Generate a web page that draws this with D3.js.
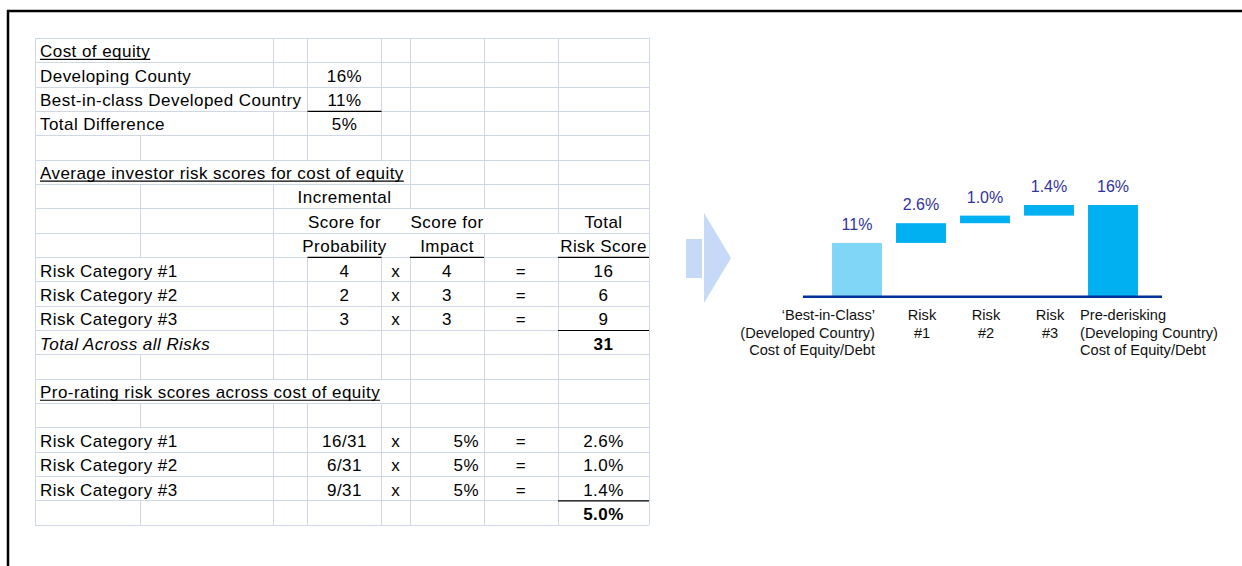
<!DOCTYPE html>
<html>
<head>
<meta charset="utf-8">
<script src="https://cdn.jsdelivr.net/npm/d3@7"></script>
<style>
  body { margin: 0; background: #fff; }
  svg { display: block; font-family: "Liberation Sans", Arial, sans-serif; }
</style>
</head>
<body>
<svg id="chart" width="1242" height="566"></svg>
<script>
// cost of equity block
const costLabels = ["Developing County", "Best-in-class Developed Country", "Total Difference"];
const costValues = ["16%", "11%", "5%"];

// average investor risk scores
const riskCategories = ["Risk Category #1", "Risk Category #2", "Risk Category #3"];
const probabilityScores = [4, 2, 3];
const impactScores = [4, 3, 3];
const totalScores = [16, 6, 9];
const totalRiskScore = 31;

// pro-rating the difference
const proRateShares = ["16/31", "6/31", "9/31"];
const proRateDifference = ["5%", "5%", "5%"];
const proRatedCost = ["2.6%", "1.0%", "1.4%"];
const proRatedTotal = "5.0%";

// waterfall
const stepNames = [
    ["\u2018Best-in-Class\u2019", "(Developed Country)", "Cost of Equity/Debt"],
    ["Risk", "#1"],
    ["Risk", "#2"],
    ["Risk", "#3"],
    ["Pre-derisking", "(Developing Country)", "Cost of Equity/Debt"]
];
const stepValues = [11, 2.6, 1.0, 1.4, 16];
const stepLabels = ["11%", "2.6%", "1.0%", "1.4%", "16%"];
const stepKinds = ["total", "delta", "delta", "delta", "total"];

const svg = d3.select("#chart");

// ---------- spreadsheet ----------
const colEdges = [35, 140, 273, 307.5, 381.5, 410, 484, 558, 649];
const nRows = 20;
const row = d3.scaleBand().domain(d3.range(nRows)).range([38.3, 525.3]);
const rh = row.bandwidth();

const cells = [];
const add = (r, c, text, opts = {}) => cells.push({ r, c, text: String(text), anchor: "start", ...opts });

add(0, 0, "Cost of equity", { underline: true });
costLabels.forEach((t, i) => {
    add(1 + i, 0, t);
    add(1 + i, 3, costValues[i], { anchor: "middle" });
});
add(5, 0, "Average investor risk scores for cost of equity", { underline: true });
add(6, 3, "Incremental", { anchor: "middle" });
add(7, 3, "Score for", { anchor: "middle" });
add(7, 5, "Score for", { anchor: "middle", clear: [5] });
add(7, 7, "Total", { anchor: "middle" });
add(8, 3, "Probability", { anchor: "middle" });
add(8, 5, "Impact", { anchor: "middle", clear: [5] });
add(8, 7, "Risk Score", { anchor: "middle" });
riskCategories.forEach((t, i) => {
    const r = 9 + i;
    add(r, 0, t);
    add(r, 3, probabilityScores[i], { anchor: "middle" });
    add(r, 4, "x", { anchor: "middle" });
    add(r, 5, impactScores[i], { anchor: "middle" });
    add(r, 6, "=", { anchor: "middle" });
    add(r, 7, totalScores[i], { anchor: "middle" });
});
add(12, 0, "Total Across all Risks", { italic: true });
add(12, 7, totalRiskScore, { anchor: "middle", bold: true });
add(14, 0, "Pro-rating risk scores across cost of equity ", { underline: true });
riskCategories.forEach((t, i) => {
    const r = 16 + i;
    add(r, 0, t);
    add(r, 3, proRateShares[i], { anchor: "middle" });
    add(r, 4, "x", { anchor: "middle" });
    add(r, 5, proRateDifference[i], { anchor: "end" });
    add(r, 6, "=", { anchor: "middle" });
    add(r, 7, proRatedCost[i], { anchor: "middle" });
});
add(19, 7, proRatedTotal, { anchor: "middle", bold: true });

// dark cell borders (bottom edge of the given cell)
const cellRules = [[2, 3], [8, 3], [8, 5], [8, 7], [11, 7], [18, 7]];

const gridG = svg.append("g").attr("shape-rendering", "crispEdges");
const textG = svg.append("g")
    .style("font-size", "17px")
    .style("letter-spacing", "0.45px")
    .style("white-space", "pre")
    .attr("fill", "#000");

const cellX = d => d.anchor === "start" ? colEdges[d.c] + 5
    : d.anchor === "end" ? colEdges[d.c + 1] - 5
    : (colEdges[d.c] + colEdges[d.c + 1]) / 2;

textG.selectAll("text")
    .data(cells)
    .join("text")
    .attr("x", cellX)
    .attr("y", d => row(d.r) + rh - 5.3)
    .attr("text-anchor", d => d.anchor)
    .attr("font-weight", d => d.bold ? "bold" : null)
    .attr("font-style", d => d.italic ? "italic" : null)
    .text(d => d.text)
    .each(function(d) {
        const w = this.getComputedTextLength();
        const x = cellX(d);
        d.x0 = d.anchor === "start" ? x : d.anchor === "end" ? x - w : x - w / 2;
        d.x1 = d.x0 + w;
    });

// underlines drawn by hand so the trailing space counts
textG.selectAll("line.ul")
    .data(cells.filter(d => d.underline))
    .join("line")
    .attr("x1", d => d.x0).attr("x2", d => d.x1)
    .attr("y1", d => row(d.r) + rh - 3.3).attr("y2", d => row(d.r) + rh - 3.3)
    .attr("stroke", "#000").attr("stroke-width", 1.2);

// horizontal grid
gridG.selectAll("line.h")
    .data(d3.range(nRows + 1))
    .join("line")
    .attr("x1", colEdges[0]).attr("x2", colEdges[colEdges.length - 1])
    .attr("y1", r => r === nRows ? row.range()[1] : row(r))
    .attr("y2", r => r === nRows ? row.range()[1] : row(r))
    .attr("stroke", "#D0D7E5");

// vertical grid, hidden where text spills across a column edge
const vSegs = [];
d3.range(nRows).forEach(r => {
    const inRow = cells.filter(d => d.r === r);
    colEdges.forEach((x, ei) => {
        const edgeOuter = ei === 0 || ei === colEdges.length - 1;
        const hidden = !edgeOuter && inRow.some(d =>
            (d.clear && d.clear.includes(ei)) || (d.x0 - 3 < x && d.x1 + 3 > x));
        if (!hidden) vSegs.push({ r, x });
    });
});
gridG.selectAll("line.v")
    .data(vSegs)
    .join("line")
    .attr("x1", d => d.x).attr("x2", d => d.x)
    .attr("y1", d => row(d.r)).attr("y2", d => row(d.r) + rh)
    .attr("stroke", "#D0D7E5");

svg.append("g")
    .selectAll("line")
    .data(cellRules)
    .join("line")
    .attr("x1", d => colEdges[d[1]]).attr("x2", d => colEdges[d[1] + 1])
    .attr("y1", d => row(d[0]) + rh).attr("y2", d => row(d[0]) + rh)
    .attr("stroke", "#000").attr("stroke-width", 1.2);

// ---------- arrow ----------
svg.append("rect").attr("x", 686).attr("y", 239).attr("width", 16).attr("height", 39).attr("fill", "#C6D9F6");
svg.append("path").attr("d", "M704,213 L731,258 L704,303 Z").attr("fill", "#C6D9F6");

// ---------- waterfall ----------
const x = d3.scaleBand()
    .domain(d3.range(stepValues.length))
    .range([825, 1145])
    .paddingInner(0.22)
    .paddingOuter(0.11);
const y = d3.scaleLinear().domain([4, 16]).range([296, 205]);

let running = 0;
const bars = stepValues.map((v, i) => {
    let lo, hi;
    if (stepKinds[i] === "total") { lo = y.domain()[0]; hi = v; running = v; }
    else { lo = running; hi = running + v; running = hi; }
    return { i, lo, hi, label: stepLabels[i], lines: stepNames[i] };
});

const chartG = svg.append("g");
chartG.selectAll("rect")
    .data(bars)
    .join("rect")
    .attr("x", d => x(d.i))
    .attr("width", x.bandwidth())
    .attr("y", d => y(d.hi))
    .attr("height", d => y(d.lo) - y(d.hi))
    .attr("fill", d => d.i === 0 ? "#80D6F7" : "#00B0F0");

chartG.append("line")
    .attr("x1", 803).attr("x2", 1162)
    .attr("y1", y.range()[0] + 0.7).attr("y2", y.range()[0] + 0.7)
    .attr("stroke", "#003399").attr("stroke-width", 2.5);

chartG.selectAll("text.val")
    .data(bars)
    .join("text")
    .attr("class", "val")
    .attr("x", d => x(d.i) + x.bandwidth() / 2)
    .attr("y", d => y(d.hi) - 13)
    .attr("text-anchor", "middle")
    .attr("fill", "#333399")
    .style("font-size", "16px")
    .text(d => d.label);

const last = bars.length - 1;
const catX = d => d.i === 0 ? x(d.i) + x.bandwidth() - 7
    : d.i === last ? x(d.i) - 8
    : x(d.i) + x.bandwidth() / 2 + 1;
const catAnchor = d => d.i === 0 ? "end" : d.i === last ? "start" : "middle";

chartG.selectAll("text.cat")
    .data(bars)
    .join("text")
    .attr("class", "cat")
    .attr("text-anchor", catAnchor)
    .attr("fill", "#111")
    .style("font-size", "14.6px")
    .each(function(d) {
        d3.select(this).selectAll("tspan")
            .data(d.lines)
            .join("tspan")
            .attr("x", catX(d))
            .attr("y", (t, k) => 320 + k * 17.5)
            .text(t => t);
    });

// ---------- frame ----------
svg.append("line").attr("x1", 7).attr("x2", 1242).attr("y1", 11).attr("y2", 11)
    .attr("stroke", "#000").attr("stroke-width", 2.5);
svg.append("line").attr("x1", 8).attr("x2", 8).attr("y1", 10).attr("y2", 566)
    .attr("stroke", "#000").attr("stroke-width", 2.5);
</script>
</body>
</html>
